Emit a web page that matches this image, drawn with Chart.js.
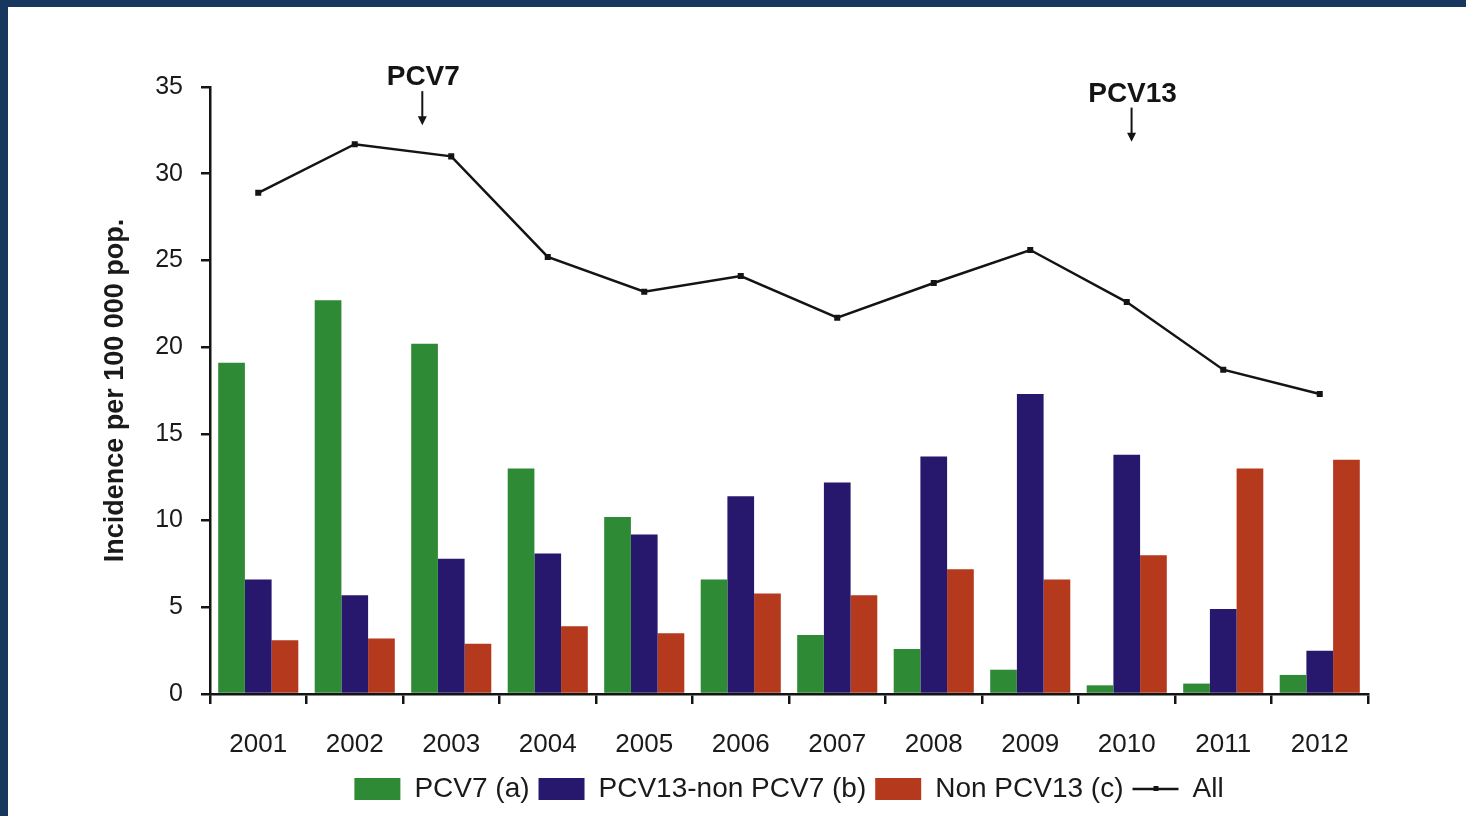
<!DOCTYPE html>
<html>
<head>
<meta charset="utf-8">
<title>Invasive pneumococcal disease incidence</title>
<script src="https://cdn.jsdelivr.net/npm/chart.js@4.4.0/dist/chart.umd.min.js"></script>
<style>
  html, body { margin: 0; padding: 0; background: #fff; }
  #wrap { position: relative; width: 1466px; height: 816px; overflow: hidden; background: #fff; }
  #wrap canvas { position: absolute; left: 0; top: 0; }
  .edge { position: absolute; background: #18375e; z-index: 2; }
  .edge.top { left: 0; top: 0; width: 1466px; height: 7px; }
  .edge.left { left: 0; top: 0; width: 8px; height: 816px; }
</style>
</head>
<body>
<div id="wrap">
  <canvas id="chart" width="1466" height="816"></canvas>
  <div class="edge top"></div>
  <div class="edge left"></div>
</div>
<script>
// values (incidence per 100 000)
const years = ['2001', '2002', '2003', '2004', '2005', '2006', '2007', '2008', '2009', '2010', '2011', '2012'];
const pcv7 = [19.1, 22.7, 20.2, 13.0, 10.2, 6.6, 3.4, 2.6, 1.4, 0.5, 0.6, 1.1];
const pcv13NonPcv7 = [6.6, 5.7, 7.8, 8.1, 9.2, 11.4, 12.2, 13.7, 17.3, 13.8, 4.9, 2.5];
const nonPcv13 = [3.1, 3.2, 2.9, 3.9, 3.5, 5.8, 5.7, 7.2, 6.6, 8.0, 13.0, 13.5];
const allTypes = [28.9, 31.7, 31.0, 25.2, 23.2, 24.1, 21.7, 23.7, 25.6, 22.6, 18.7, 17.3];

const yMin = 0;
const yMax = 35;
const yStep = 5;

// vaccine introduction markers: category index (fractional) and arrow tip value
const vaccineLabels = ['PCV7', 'PCV13'];
const vaccineAt = [1.7, 9.05];
const vaccineTip = [32.8, 31.85];

const INK = '#141414';
const FONT = "'Liberation Sans', Arial, sans-serif";

// arrows + the line symbol for "All" in the legend
const markerPlugin = {
  id: 'vaccineMarkers',
  afterDraw(chart) {
    const { ctx, scales: { x, y } } = chart;
    const step = x.getPixelForValue(1) - x.getPixelForValue(0);
    ctx.save();
    vaccineLabels.forEach((label, i) => {
      const px = x.getPixelForValue(0) + vaccineAt[i] * step;
      const tip = y.getPixelForValue(vaccineTip[i]);
      const tail = tip - 34;
      ctx.strokeStyle = INK;
      ctx.fillStyle = INK;
      ctx.lineWidth = 2;
      ctx.beginPath();
      ctx.moveTo(px, tail);
      ctx.lineTo(px, tip - 7);
      ctx.stroke();
      ctx.beginPath();
      ctx.moveTo(px - 4.5, tip - 9);
      ctx.lineTo(px + 4.5, tip - 9);
      ctx.lineTo(px, tip);
      ctx.closePath();
      ctx.fill();
      ctx.font = 'bold 28px ' + FONT;
      ctx.textAlign = 'center';
      ctx.textBaseline = 'alphabetic';
      ctx.fillText(label, px + 1, tail - 6);
    });

    const hb = chart.legend && chart.legend.legendHitBoxes[3];
    if (hb) {
      const cy = hb.top + hb.height / 2;
      ctx.strokeStyle = INK;
      ctx.lineWidth = 2.5;
      ctx.beginPath();
      ctx.moveTo(hb.left, cy);
      ctx.lineTo(hb.left + 46, cy);
      ctx.stroke();
      ctx.fillStyle = INK;
      ctx.fillRect(hb.left + 21, cy - 3, 5, 5);
    }
    ctx.restore();
  }
};

const ctx = document.getElementById('chart').getContext('2d');
new Chart(ctx, {
  type: 'bar',
  data: {
    labels: years,
    datasets: [
      {
        type: 'line',
        label: 'All',
        data: allTypes,
        borderColor: INK,
        backgroundColor: INK,
        borderWidth: 2.5,
        pointStyle: 'rect',
        pointRadius: 2.5,
        pointBackgroundColor: INK,
        tension: 0,
        order: 0
      },
      { label: 'PCV7 (a)', data: pcv7, backgroundColor: '#2e8a34', order: 1 },
      { label: 'PCV13-non PCV7 (b)', data: pcv13NonPcv7, backgroundColor: '#27176d', order: 1 },
      { label: 'Non PCV13 (c)', data: nonPcv13, backgroundColor: '#b5391c', order: 1 }
    ]
  },
  options: {
    responsive: false,
    animation: false,
    datasets: {
      bar: { categoryPercentage: 0.83, barPercentage: 1.0, borderWidth: 0 }
    },
    layout: { padding: { left: 0, top: 87, right: 98, bottom: 3 } },
    plugins: {
      tooltip: { enabled: false },
      legend: {
        position: 'bottom',
        fullSize: false,
        labels: {
          boxWidth: 46,
          boxHeight: 22,
          padding: 9,
          color: '#1a1a1a',
          font: { family: FONT, size: 28 },
          // bars first, line last, as in the figure
          sort: (a, b) => {
            const rank = t => (t.text === 'All' ? 1 : 0);
            return rank(a) - rank(b) || a.datasetIndex - b.datasetIndex;
          },
          generateLabels(chart) {
            const items = Chart.defaults.plugins.legend.labels.generateLabels(chart);
            items.forEach(item => {
              if (item.text === 'All') {
                item.fillStyle = 'rgba(0,0,0,0)';
                item.strokeStyle = 'rgba(0,0,0,0)';
              }
              item.lineWidth = 0;
            });
            return items;
          }
        }
      }
    },
    scales: {
      x: {
        offset: true,
        grid: {
          offset: true,
          drawOnChartArea: false,
          drawTicks: true,
          tickLength: 10,
          color: INK,
          lineWidth: 2.5
        },
        border: { display: true, color: INK, width: 2.5 },
        ticks: { color: '#1a1a1a', font: { family: FONT, size: 26 }, padding: 25, maxRotation: 0 },
        afterFit(scale) { scale.height = 72; }
      },
      y: {
        min: yMin,
        max: yMax,
        grid: {
          drawOnChartArea: false,
          drawTicks: true,
          tickLength: 9,
          color: INK,
          lineWidth: 2.5
        },
        border: { display: true, color: INK, width: 2.5 },
        ticks: { stepSize: yStep, color: '#1a1a1a', font: { family: FONT, size: 25 }, padding: 18 },
        title: {
          display: true,
          text: 'Incidence per 100 000 pop.',
          color: '#1a1a1a',
          font: { family: FONT, size: 27, weight: 'bold' },
          padding: { top: 99, bottom: 0 }
        },
        afterFit(scale) { scale.width = 210; }
      }
    }
  },
  plugins: [markerPlugin]
});
</script>
</body>
</html>
